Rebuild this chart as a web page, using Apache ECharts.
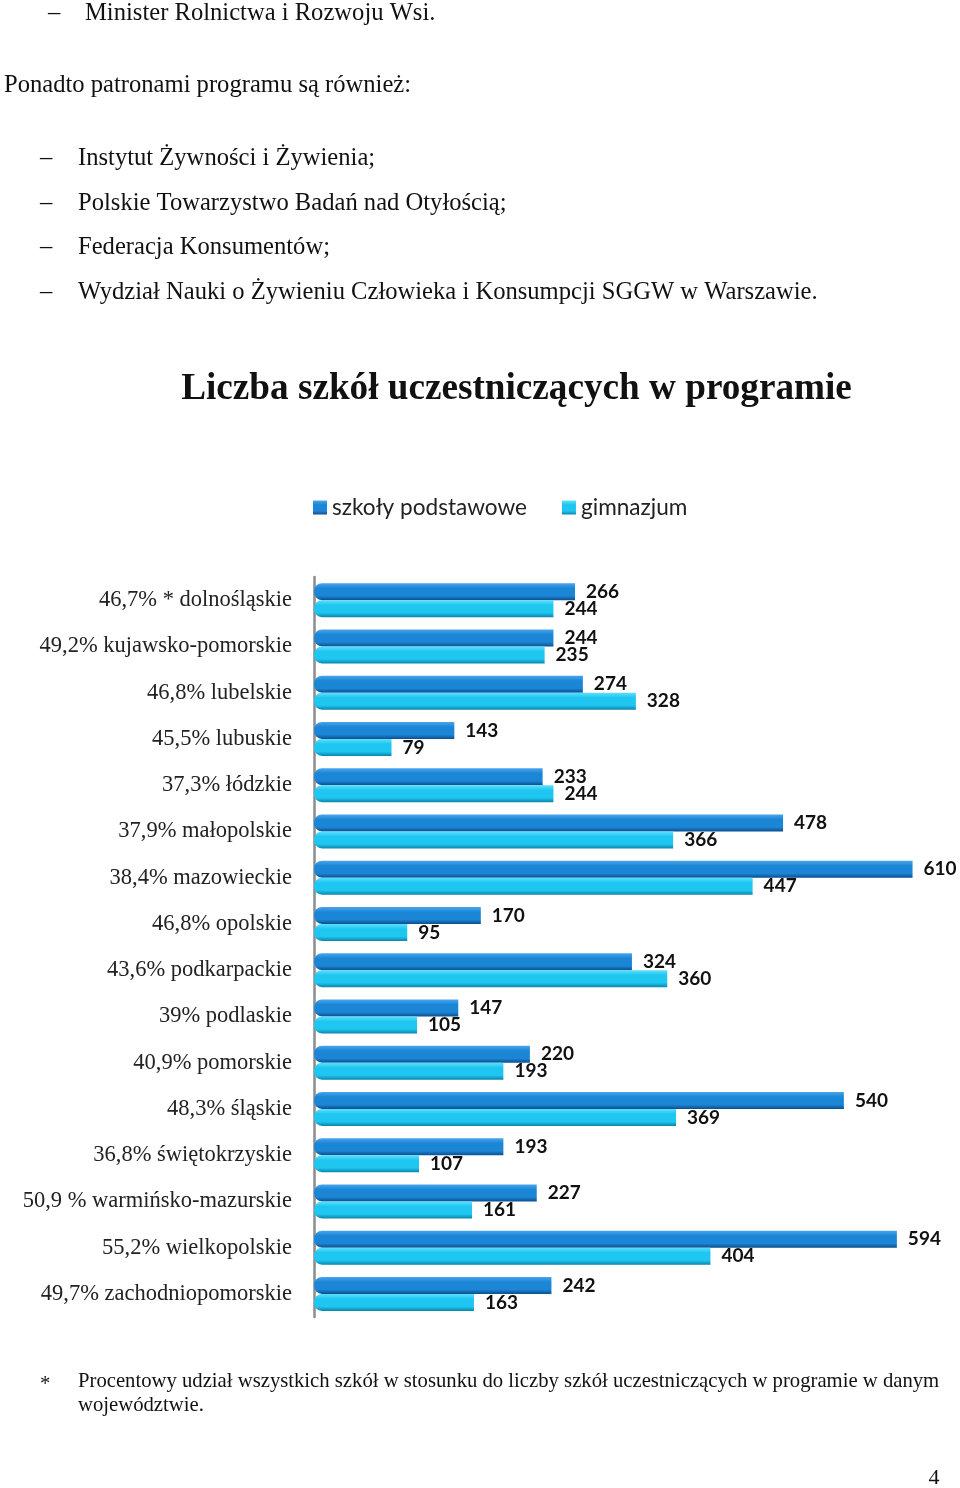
<!DOCTYPE html>
<html><head><meta charset="utf-8">
<script src="https://cdn.jsdelivr.net/npm/echarts@6/dist/echarts.min.js"></script>
<style>html,body{margin:0;padding:0;background:#fff}#c{width:960px;height:1488px}</style>
</head><body><div id="c"></div>
<script>
const regions = ['dolnośląskie','kujawsko-pomorskie','lubelskie','lubuskie','łódzkie','małopolskie','mazowieckie','opolskie','podkarpackie','podlaskie','pomorskie','śląskie','świętokrzyskie','warmińsko-mazurskie','wielkopolskie','zachodniopomorskie'];
const shares = ['46,7% *','49,2%','46,8%','45,5%','37,3%','37,9%','38,4%','46,8%','43,6%','39%','40,9%','48,3%','36,8%','50,9 %','55,2%','49,7%'];
const podstawowe = [266,244,274,143,233,478,610,170,324,147,220,540,193,227,594,242];
const gimnazjum  = [244,235,328,79,244,366,447,95,360,105,193,369,107,161,404,163];
const seriesNames = ['szkoły podstawowe','gimnazjum'];
const chartTitle = 'Liczba szkół uczestniczących w programie';
const docLines = [
  {t:'–', x:48, y:14}, {t:'Minister Rolnictwa i Rozwoju Wsi.', x:85, y:14},
  {t:'Ponadto patronami programu są również:', x:4, y:86},
  {t:'–', x:40, y:159}, {t:'Instytut Żywności i Żywienia;', x:78, y:159},
  {t:'–', x:40, y:204}, {t:'Polskie Towarzystwo Badań nad Otyłością;', x:78, y:204},
  {t:'–', x:40, y:248}, {t:'Federacja Konsumentów;', x:78, y:248},
  {t:'–', x:40, y:293}, {t:'Wydział Nauki o Żywieniu Człowieka i Konsumpcji SGGW w Warszawie.', x:78, y:293}
];
const footLines = [
  {t:'*', x:40, y:1385}, {t:'Procentowy udział wszystkich szkół w stosunku do liczby szkół uczestniczących w programie w danym', x:78, y:1382},
  {t:'województwie.', x:78, y:1406}
];
const categories = regions.map((r,i)=>shares[i]+' '+r);

const chart = echarts.init(document.getElementById('c'));
function grad(top, mid, bot){
  return new echarts.graphic.LinearGradient(0,0,0,1,[
    {offset:0,color:top},{offset:0.3,color:mid},{offset:0.75,color:mid},{offset:1,color:bot}]);
}
const c1 = grad('#4aa6ee','#1c86d6','#0b4f8f');
const c2 = grad('#5fe0ff','#1ec6f0','#0a86ad');
const graphics = [];
docLines.forEach(d=>graphics.push({type:'text',x:d.x,y:d.y,style:{text:d.t,font:'24.6px "Liberation Serif"',fill:'#111',textVerticalAlign:'middle'}}));
footLines.forEach(d=>graphics.push({type:'text',x:d.x,y:d.y,style:{text:d.t,font:'20.7px "Liberation Serif"',fill:'#111',textVerticalAlign:'middle'}}));
graphics.push({type:'text',x:934,y:1478,style:{text:'4',font:'22px "Liberation Serif"',fill:'#111',textAlign:'center',textVerticalAlign:'middle'}});
graphics.push({type:'text',x:516.5,y:389,style:{text:chartTitle,font:'bold 37.2px "Liberation Serif"',fill:'#111',textAlign:'center',textVerticalAlign:'middle'}});

const labelCfg = {show:true,position:'right',distance:11,color:'#111',fontFamily:'Lato',fontWeight:'bold',fontSize:19};
chart.setOption({
  animation:false,
  legend:{left:313,top:496,padding:0,itemWidth:14,itemHeight:14,itemGap:35,icon:'rect',textStyle:{fontFamily:'Lato',fontSize:22.6,color:'#222'},data:seriesNames},
  grid:{left:314,width:628,top:577,height:740,containLabel:false},
  xAxis:{type:'value',min:0,max:640,show:false},
  yAxis:{type:'category',inverse:true,data:categories,
    axisLine:{show:true,lineStyle:{color:'#8c8c8c',width:2.5}},axisTick:{show:false},
    axisLabel:{margin:22,fontFamily:'Liberation Serif',fontSize:22.5,color:'#222',padding:[4,0,0,0]}},
  series:[
    {name:seriesNames[0],type:'bar',data:podstawowe,barWidth:17,barGap:'0%',itemStyle:{color:c1,borderRadius:[8,0,0,8]},label:labelCfg},
    {name:seriesNames[1],type:'bar',data:gimnazjum,barWidth:17,barGap:'0%',itemStyle:{color:c2,borderRadius:[8,0,0,8]},label:labelCfg}
  ],
  graphic:graphics
});
</script></body></html>
